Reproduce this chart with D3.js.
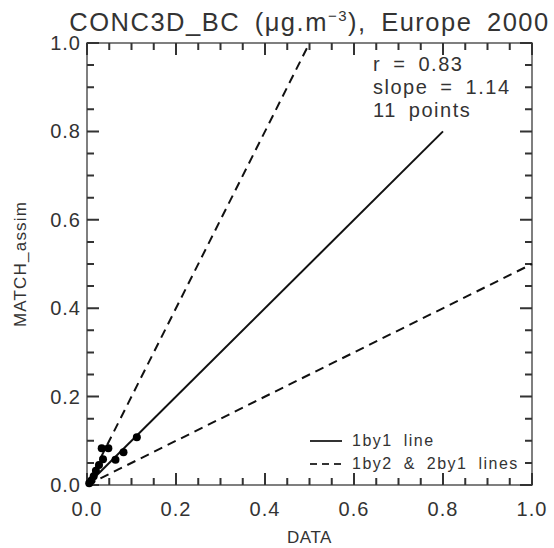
<!DOCTYPE html>
<html>
<head>
<meta charset="utf-8">
<script src="https://cdn.jsdelivr.net/npm/d3@7"></script>
<style>
  body { margin: 0; background: #fff; }
  svg text { font-family: "Liberation Sans", Arial, sans-serif; fill: #333; }
</style>
</head>
<body>
<script>
'use strict';

const width = 554, height = 548;
const margin = {top: 43, right: 22, bottom: 63, left: 87};

// observed (DATA) and modelled (MATCH_assim) values
const dataObs   = [0.005, 0.010, 0.015, 0.020, 0.027, 0.036, 0.033, 0.048, 0.064, 0.082, 0.112];
const dataModel = [0.004, 0.010, 0.020, 0.032, 0.045, 0.058, 0.083, 0.083, 0.057, 0.074, 0.108];

const majorTicks = [0, 0.2, 0.4, 0.6, 0.8, 1.0];
const minorTicks = [0.05, 0.1, 0.15, 0.25, 0.3, 0.35, 0.45, 0.5, 0.55, 0.65, 0.7, 0.75, 0.85, 0.9, 0.95];

const statLines = ['r = 0.83', 'slope = 1.14', '11 points'];
const legendItems = [
  {label: '1by1 line', dash: null},
  {label: '1by2 & 2by1 lines', dash: '8,6'}
];

// reference lines
const refLines = [
  {pts: [[0, 0], [0.8, 0.8]], dash: null},
  {pts: [[0, 0], [0.5, 1.0]], dash: '9,6'},
  {pts: [[0, 0], [1.0, 0.5]], dash: '9,6'}
];

let svg = d3.select('body').append('svg')
  .attr('width', width)
  .attr('height', height);

let x = d3.scaleLinear().domain([0, 1]).range([margin.left, width - margin.right]);
let y = d3.scaleLinear().domain([0, 1]).range([height - margin.bottom, margin.top]);

// frame
svg.append('rect')
  .attr('x', x(0)).attr('y', y(1))
  .attr('width', x(1) - x(0)).attr('height', y(0) - y(1))
  .attr('fill', 'none').attr('stroke', '#555').attr('stroke-width', 1.5);

// inward ticks on all four sides, one path
let tp = d3.path();
[[minorTicks, 7], [majorTicks, 12]].forEach(([vals, L]) => {
  vals.forEach(v => {
    tp.moveTo(x(v), y(0)); tp.lineTo(x(v), y(0) - L);
    tp.moveTo(x(v), y(1)); tp.lineTo(x(v), y(1) + L);
    tp.moveTo(x(0), y(v)); tp.lineTo(x(0) + L, y(v));
    tp.moveTo(x(1), y(v)); tp.lineTo(x(1) - L, y(v));
  });
});
svg.append('path')
  .attr('d', tp.toString())
  .attr('fill', 'none')
  .attr('stroke', '#333')
  .attr('stroke-width', 2);

// tick labels
svg.selectAll('.xl').data(majorTicks).enter().append('text')
  .attr('x', d => x(d)).attr('y', y(0) + 31)
  .attr('text-anchor', 'middle').attr('font-size', 20).attr('letter-spacing', 1)
  .text(d => d.toFixed(1));

svg.selectAll('.yl').data(majorTicks).enter().append('text')
  .attr('x', x(0) - 6).attr('y', d => y(d) + 7)
  .attr('text-anchor', 'end').attr('font-size', 20).attr('letter-spacing', 1)
  .text(d => d.toFixed(1));

// axis titles
svg.append('text')
  .attr('x', (x(0) + x(1)) / 2).attr('y', 543)
  .attr('text-anchor', 'middle').attr('font-size', 17).attr('letter-spacing', 0.5)
  .text('DATA');

svg.append('text')
  .attr('transform', `translate(26,${(y(0) + y(1)) / 2}) rotate(-90)`)
  .attr('text-anchor', 'middle').attr('font-size', 17).attr('letter-spacing', 1.2)
  .text('MATCH_assim');

// title
let title = svg.append('text')
  .attr('x', (x(0) + x(1)) / 2).attr('y', 31)
  .attr('text-anchor', 'middle').attr('font-size', 25.5)
  .attr('letter-spacing', 1.5).attr('word-spacing', 6);
title.append('tspan').text('CONC3D_BC (μg.m');
title.append('tspan').attr('dy', -10).attr('font-size', 15).text('−3');
title.append('tspan').attr('dy', 10).text('), Europe 2000');

// reference lines
let line = d3.line().x(d => x(d[0])).y(d => y(d[1]));
svg.selectAll('.ref').data(refLines).enter().append('path')
  .attr('d', d => line(d.pts))
  .attr('fill', 'none').attr('stroke', '#111').attr('stroke-width', 2)
  .attr('stroke-dasharray', d => d.dash);

// points
svg.selectAll('.pt').data(dataObs).enter().append('circle')
  .attr('cx', d => x(d))
  .attr('cy', (d, i) => y(dataModel[i]))
  .attr('r', 4).attr('fill', '#000');

// stats text
svg.selectAll('.stat').data(statLines).enter().append('text')
  .attr('x', 373).attr('y', (d, i) => 71 + i * 23)
  .attr('font-size', 20).attr('letter-spacing', 1.5).attr('word-spacing', 5)
  .text(d => d);

// legend
let leg = svg.selectAll('.leg').data(legendItems).enter().append('g')
  .attr('transform', (d, i) => `translate(310,${441 + i * 23})`);
leg.append('line')
  .attr('x1', 0).attr('x2', 32).attr('y1', 0).attr('y2', 0)
  .attr('stroke', '#333').attr('stroke-width', 2)
  .attr('stroke-dasharray', d => d.dash ? '7,5' : null);
leg.append('text')
  .attr('x', 42).attr('y', 5).attr('font-size', 16)
  .attr('letter-spacing', 1.5).attr('word-spacing', 5)
  .text(d => d.label);
</script>
</body>
</html>
